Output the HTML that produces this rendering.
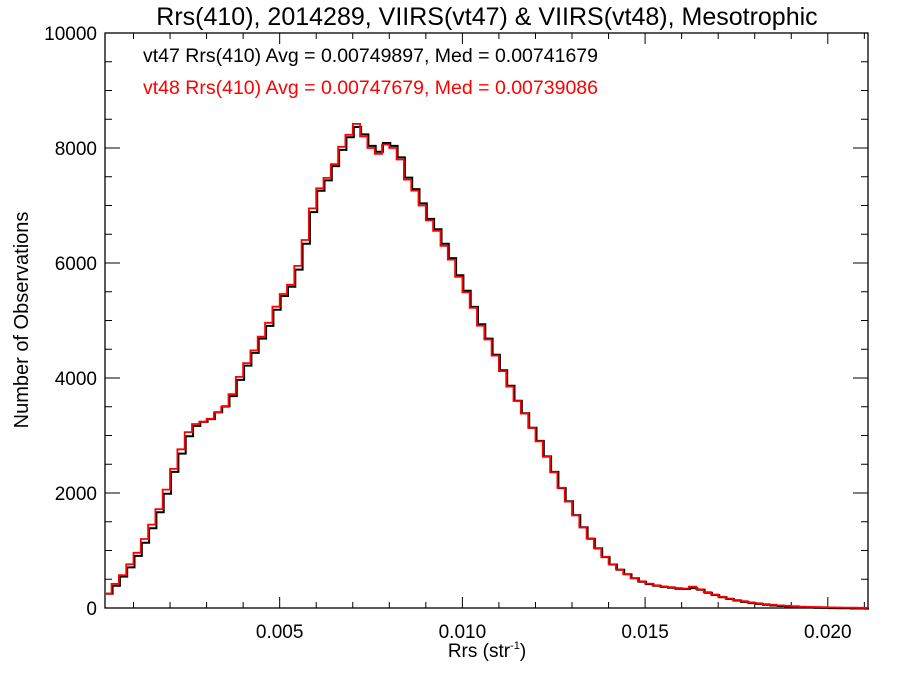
<!DOCTYPE html>
<html><head><meta charset="utf-8">
<style>
html,body{margin:0;padding:0;background:#fff;}
svg text{font-family:"Liberation Sans",Arial,sans-serif;}
</style></head>
<body>
<svg id="chart" width="900" height="675" viewBox="0 0 900 675" xmlns="http://www.w3.org/2000/svg">
<rect width="900" height="675" fill="#fff"/>
<text x="487" y="25" font-size="25" text-anchor="middle" fill="#000">Rrs(410), 2014289, VIIRS(vt47) &amp; VIIRS(vt48), Mesotrophic</text>
<text x="143" y="62" font-size="19.5" fill="#000">vt47 Rrs(410) Avg = 0.00749897, Med = 0.00741679</text>
<text x="143" y="94" font-size="19.5" fill="#ff0000">vt48 Rrs(410) Avg = 0.00747679, Med = 0.00739086</text>
<g id="axes"></g>
<g id="series"></g>
<text x="487" y="657" font-size="19" text-anchor="middle">Rrs (str<tspan font-size="11" dy="-8">-1</tspan><tspan dy="8">)</tspan></text>
<text transform="translate(28,320) rotate(-90)" font-size="20" text-anchor="middle">Number of Observations</text>
</svg>
<script>
const binStart = 0.0002;
const binWidth = 0.0002;
const vt47Counts = [260,400,560,720,920,1150,1400,1680,2000,2380,2700,3000,3180,3250,3300,3420,3520,3700,3980,4230,4450,4700,4920,5200,5440,5600,5900,6350,6900,7270,7450,7700,7980,8200,8380,8250,8050,7950,8100,8050,7850,7500,7300,7050,6780,6600,6350,6100,5800,5530,5250,4950,4700,4420,4150,3880,3620,3400,3150,2920,2650,2380,2100,1870,1630,1420,1220,1050,900,770,680,600,530,470,430,400,380,365,350,345,360,330,280,240,200,170,145,120,100,85,70,58,48,40,33,27,22,18,15,12,10,8,6,5,4];
const vt48Counts = [250,420,570,760,960,1200,1450,1720,2060,2420,2760,3060,3200,3240,3290,3400,3500,3720,4020,4260,4480,4720,4960,5240,5460,5620,5950,6400,6950,7300,7480,7720,8020,8230,8420,8200,8000,7900,8060,8000,7800,7450,7260,7000,6740,6560,6300,6060,5760,5490,5220,4910,4670,4390,4120,3850,3600,3380,3130,2900,2630,2360,2090,1850,1610,1400,1210,1040,890,760,670,590,520,465,425,395,375,362,348,340,370,325,275,235,195,165,140,118,98,82,68,56,46,38,31,25,20,17,14,11,9,7,5,4,3];
const xTickValues = [0.005,0.010,0.015,0.020];
const xTickLabels = ["0.005","0.010","0.015","0.020"];
const yTickValues = [0,2000,4000,6000,8000,10000];
const yTickLabels = ["0","2000","4000","6000","8000","10000"];

const L=105,R=868,T=33,B=608,xMin=0.00022,xMax=0.0211,yMin=0,yMax=10000;
const xs=v=>L+(v-xMin)/(xMax-xMin)*(R-L);
const ys=v=>B-(v-yMin)/(yMax-yMin)*(B-T);
const NS="http://www.w3.org/2000/svg";
function mk(tag,attrs,parent){const e=document.createElementNS(NS,tag);for(const k in attrs)e.setAttribute(k,attrs[k]);parent.appendChild(e);return e;}
const axes=document.getElementById('axes');
const frame=mk('rect',{x:L,y:T,width:R-L,height:B-T,fill:'none',stroke:'#000','stroke-width':1.3},axes);


for(let i=1;i<=21;i++){const v=i*0.001;if(v<xMin||v>xMax)continue;const x=xs(v);const major=(i%5===0);const len=major?11:6;
 const t1=mk('line',{x1:x,x2:x,y1:B,y2:B-len,stroke:'#000','stroke-width':1},axes);
 
 
 const t2=mk('line',{x1:x,x2:x,y1:T,y2:T+len,stroke:'#000','stroke-width':1},axes);
 
 }
xTickValues.forEach((v,i)=>{const t=mk('text',{x:xs(v),y:638,'font-size':19,'text-anchor':'middle'},axes);t.textContent=xTickLabels[i];
 
 });
for(let v=0;v<=10000;v+=500){const y=ys(v);const major=(v%2000===0);const len=major?15:7;
 const t1=mk('line',{x1:L,x2:L+len,y1:y,y2:y,stroke:'#000','stroke-width':1},axes);
 
 
 const t2=mk('line',{x1:R,x2:R-len,y1:y,y2:y,stroke:'#000','stroke-width':1},axes);
 
 }
yTickValues.forEach((v,i)=>{const t=mk('text',{x:97,y:ys(v)+7,'font-size':19,'text-anchor':'end'},axes);t.textContent=yTickLabels[i];
 
 });
const series=document.getElementById('series');
function stepPath(counts){let d='';counts.forEach((c,i)=>{let x0=binStart+i*binWidth,x1=x0+binWidth;x0=Math.max(x0,xMin);x1=Math.min(x1,xMax);if(x1<=x0)return;const y=ys(c);d+=(d?'L':'M')+xs(x0).toFixed(1)+','+y.toFixed(1)+'L'+xs(x1).toFixed(1)+','+y.toFixed(1);});return d;}
const p1=mk('path',{d:stepPath(vt47Counts),fill:'none',stroke:'#000','stroke-width':2,transform:'translate(1,0.8)'},series);


const p2=mk('path',{d:stepPath(vt48Counts),fill:'none',stroke:'#ff0000','stroke-width':1.8},series);


</script>
</body></html>
